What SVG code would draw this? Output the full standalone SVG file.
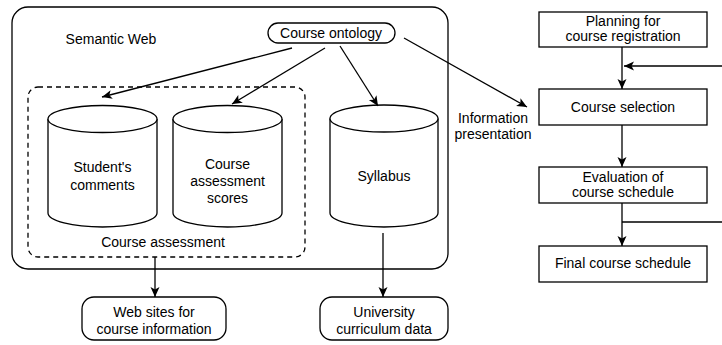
<svg xmlns="http://www.w3.org/2000/svg" width="722" height="345" viewBox="0 0 722 345">
<style>
.s{fill:#fff;stroke:#000;stroke-width:1.3}
.n{fill:none;stroke:#000;stroke-width:1.3}
.d{fill:none;stroke:#000;stroke-width:1.3;stroke-dasharray:5 4}
.t{font-family:"Liberation Sans",Arial,sans-serif;font-size:14px;text-anchor:middle;fill:#000}
.c{fill:none;stroke:#000;stroke-width:1.3;marker-end:url(#ah)}
</style>
<defs>
<marker id="ah" markerUnits="userSpaceOnUse" markerWidth="12" markerHeight="10" refX="10" refY="4.5" orient="auto">
<path d="M0,0 L10,4.5 L0,9 L2.5,4.5 Z" fill="#000"/>
</marker>
</defs>
<rect width="722" height="345" fill="#fff"/>
<g id="semantic-web">
<rect class="s" x="12" y="7" width="436" height="262" rx="16"/>
<text class="t" x="111" y="44">Semantic Web</text>
</g>
<g id="course-assessment">
<rect class="d" x="28" y="87" width="277" height="170" rx="10"/>
<text class="t" x="163" y="247">Course assessment</text>
</g>
<g id="course-ontology">
<rect class="s" x="268" y="23" width="127" height="20" rx="10"/>
<text class="t" x="331" y="38">Course ontology</text>
</g>
<g id="students-comments">
<path class="s" d="M48,119 L48,213 A54.5,14 0 0 0 157,213 L157,119"/>
<ellipse class="s" cx="102.5" cy="119" rx="54.5" ry="13.5"/>
<text class="t" x="102.5" y="172">Student's</text>
<text class="t" x="102.5" y="190">comments</text>
</g>
<g id="course-assessment-scores">
<path class="s" d="M173,119 L173,213 A54.5,14 0 0 0 282,213 L282,119"/>
<ellipse class="s" cx="227.5" cy="119" rx="54.5" ry="13.5"/>
<text class="t" x="227.5" y="169">Course</text>
<text class="t" x="227.5" y="186">assessment</text>
<text class="t" x="227.5" y="203">scores</text>
</g>
<g id="syllabus">
<path class="s" d="M330,118.5 L330,213 A54,14 0 0 0 438,213 L438,118.5"/>
<ellipse class="s" cx="384" cy="118.5" rx="54" ry="13.5"/>
<text class="t" x="384" y="181">Syllabus</text>
</g>
<g id="web-sites">
<rect class="s" x="82" y="297" width="144" height="43" rx="12"/>
<text class="t" x="154" y="317">Web sites for</text>
<text class="t" x="154" y="334">course information</text>
</g>
<g id="university-curriculum">
<rect class="s" x="320" y="297" width="128" height="43" rx="12"/>
<text class="t" x="384" y="317">University</text>
<text class="t" x="384" y="334">curriculum data</text>
</g>
<g id="info-presentation-label">
<text class="t" x="493" y="123">Information</text>
<text class="t" x="493" y="139">presentation</text>
</g>
<g id="planning">
<rect class="s" x="539" y="12" width="168" height="35"/>
<text class="t" x="623" y="26">Planning for</text>
<text class="t" x="623" y="41">course registration</text>
</g>
<g id="course-selection">
<rect class="s" x="539" y="89" width="168" height="36"/>
<text class="t" x="623" y="112">Course selection</text>
</g>
<g id="evaluation">
<rect class="s" x="539" y="167" width="168" height="36"/>
<text class="t" x="623" y="182">Evaluation of</text>
<text class="t" x="623" y="197">course schedule</text>
</g>
<g id="final-schedule">
<rect class="s" x="539" y="246" width="168" height="36"/>
<text class="t" x="623" y="268">Final course schedule</text>
</g>
<g id="connectors">
<path class="c" d="M292,48 L102,97"/>
<path class="c" d="M325,48 L232,104"/>
<path class="c" d="M340,46 L378,106"/>
<path class="c" d="M404,38 L527,107"/>
<path class="c" d="M155,257 L155,297"/>
<path class="c" d="M383,233 L383,297"/>
<path class="c" d="M622,47 L622,89"/>
<path class="c" d="M722,66 L624,66"/>
<path class="c" d="M622,125 L622,167"/>
<path class="c" d="M622,203 L622,246"/>
<path class="n" d="M622,222 L722,222"/>
</g>
</svg>
